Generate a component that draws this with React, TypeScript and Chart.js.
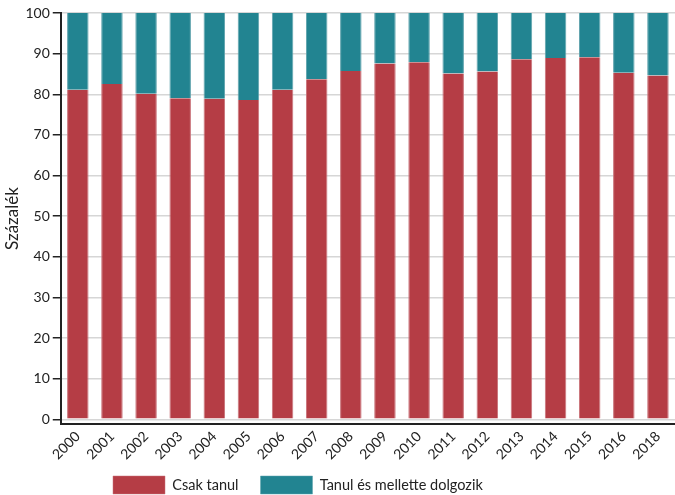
import React, { useEffect, useRef } from "react";
import { Chart, registerables } from "chart.js";

Chart.register(...registerables);

const years = ["2000", "2001", "2002", "2003", "2004", "2005", "2006", "2007", "2008", "2009", "2010", "2011", "2012", "2013", "2014", "2015", "2016", "2018"];
const csakTanul = [81.1, 82.5, 80.1, 79.0, 78.9, 78.6, 81.1, 83.7, 85.7, 87.6, 87.9, 85.1, 85.6, 88.6, 88.9, 89.1, 85.3, 84.6];
const tanulEsDolgozik = csakTanul.map((v) => Math.round((100 - v) * 10) / 10);
const seriesLabels = ["Csak tanul", "Tanul és mellette dolgozik"];
const yTitle = "Százalék";
const yTickValues = [0, 10, 20, 30, 40, 50, 60, 70, 80, 90, 100];

const FONT = "Lato, 'Open Sans', sans-serif";

const legendAdjust = {
  id: "legendAdjust",
  beforeLayout(chart: any) {
    const l = chart.legend;
    if (l && !l._patchedFit) {
      const orig = l.fit.bind(l);
      l.fit = function () {
        orig();
        this.height = 28;
      };
      l._patchedFit = true;
    }
  },
  beforeDraw(chart: any) {
    const l = chart.legend;
    if (l) {
      l.left = 91;
      l.top = 454;
      l.bottom = 495;
    }
  },
};

export default function App() {
  const ref = useRef<HTMLCanvasElement | null>(null);
  useEffect(() => {
    if (!ref.current) return;
    const chart = new Chart(ref.current, {
      type: "bar",
      data: {
        labels: years,
        datasets: [
          {
            label: seriesLabels[0],
            data: csakTanul,
            backgroundColor: "#B53D45",
            borderColor: "#C9737A",
            borderWidth: { left: 1, right: 1, top: 0, bottom: 0 },
            barPercentage: 0.63,
            categoryPercentage: 1,
          },
          {
            label: seriesLabels[1],
            data: tanulEsDolgozik,
            backgroundColor: "#228491",
            borderColor: "#5FA3AD",
            borderWidth: { left: 1, right: 1, top: 0, bottom: 0 },
            barPercentage: 0.63,
            categoryPercentage: 1,
          },
        ],
      },
      options: {
        animation: false,
        responsive: true,
        maintainAspectRatio: false,
        layout: { padding: { top: 13, left: 0, right: 0, bottom: 0 } },
        plugins: {
          legend: {
            position: "bottom",
            align: "start",
            labels: {
              boxWidth: 52,
              boxHeight: 18,
              padding: 22,
              color: "#222",
              font: { family: FONT, size: 14.5 },
            },
          },
          tooltip: { enabled: false },
        },
        scales: {
          x: {
            stacked: true,
            grid: { display: false, drawTicks: false },
            border: { display: true, color: "#222", width: 2 },
            ticks: {
              color: "#222",
              font: { family: FONT, size: 14 },
              maxRotation: 45,
              minRotation: 45,
              padding: 4,
            },
          },
          y: {
            stacked: true,
            min: -1.2,
            max: 100,
            afterBuildTicks: (s: any) => {
              s.ticks = yTickValues.map((v) => ({ value: v }));
            },
            grid: {
              color: "#d6d6d6",
              lineWidth: 1.5,
              tickColor: "#222",
              tickLength: 8,
              drawTicks: true,
            },
            border: { display: true, color: "#222", width: 2 },
            ticks: {
              color: "#222",
              padding: 3,
              font: { family: FONT, size: 14 },
            },
            title: {
              display: true,
              text: yTitle,
              color: "#222",
              font: { family: FONT, size: 17 },
              padding: { top: 2, bottom: 0 },
            },
          },
        },
      },
      plugins: [legendAdjust],
    });
    return () => chart.destroy();
  }, []);
  return (
    <div style={{ position: "absolute", left: 0, top: 0, width: 675, height: 495 }}>
      <canvas ref={ref} />
    </div>
  );
}
